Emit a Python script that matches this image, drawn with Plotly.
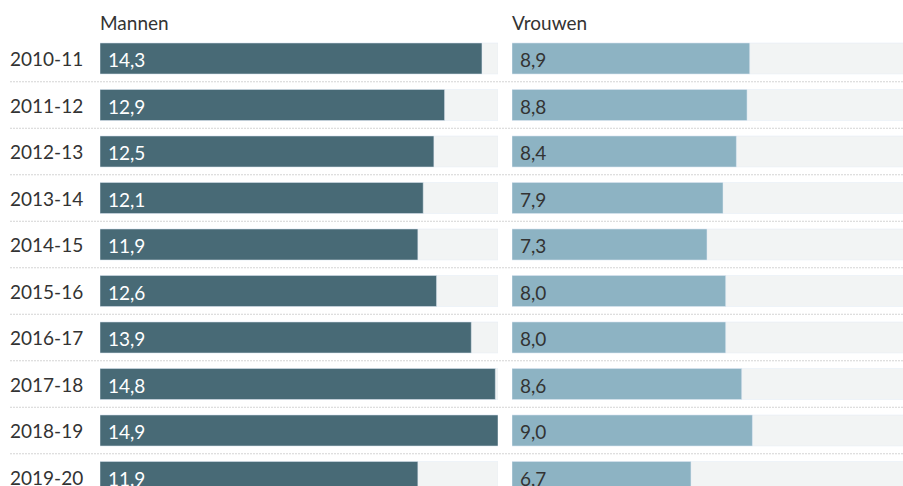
import plotly.graph_objects as go

seizoenen = ["2010-11", "2011-12", "2012-13", "2013-14", "2014-15",
             "2015-16", "2016-17", "2017-18", "2018-19", "2019-20"]
mannen = [14.3, 12.9, 12.5, 12.1, 11.9, 12.6, 13.9, 14.8, 14.9, 11.9]
vrouwen = [8.9, 8.8, 8.4, 7.9, 7.3, 8.0, 8.0, 8.6, 9.0, 6.7]

W, H = 903, 486
font = "Lato, 'Open Sans', sans-serif"
maximum = max(mannen + vrouwen)


def fmt(v):
    return f"{v:.1f}".replace(".", ",")


fig = go.Figure()
for xa, vals, kleur in [("x", mannen, "#486a76"), ("x2", vrouwen, "#8db3c3")]:
    fig.add_trace(go.Bar(y=seizoenen, x=[maximum] * len(seizoenen), orientation="h",
                         xaxis=xa, yaxis="y", marker_color="#f2f4f4", width=0.667,
                         hoverinfo="skip", showlegend=False))
    fig.add_trace(go.Bar(y=seizoenen, x=vals, orientation="h", xaxis=xa, yaxis="y",
                         marker_color=kleur, width=0.667, showlegend=False))

annotations = []
for xa, vals, kleur in [("x", mannen, "white"), ("x2", vrouwen, "#333333")]:
    for s, v in zip(seizoenen, vals):
        annotations.append(dict(x=0, y=s, xref=xa, yref="y", text=fmt(v), showarrow=False,
                                xanchor="left", xshift=6, yshift=-1,
                                font=dict(family=font, size=19, color=kleur)))
for s in seizoenen:
    annotations.append(dict(x=8 / W, y=s, xref="paper", yref="y", text=s, showarrow=False,
                            xanchor="left", font=dict(family=font, size=19, color="#333333")))
for xa, titel in [("x", "Mannen"), ("x2", "Vrouwen")]:
    annotations.append(dict(x=0, y=1 - 23 / H, xref=xa, yref="paper", text=titel,
                            showarrow=False, xanchor="left", yanchor="middle", xshift=-2,
                            font=dict(family=font, size=19, color="#333333")))

shapes = [dict(type="line", xref="paper", yref="y", x0=10 / W, x1=1, y0=i + 0.5, y1=i + 0.5,
               line=dict(color="#d4d4d4", width=1, dash="2px,1px"))
          for i in range(len(seizoenen) - 1)]

pitch = 46.5
top = -58.5 / pitch
fig.update_layout(
    width=W, height=H, margin=dict(l=0, r=0, t=0, b=0),
    paper_bgcolor="white", plot_bgcolor="white", barmode="overlay",
    xaxis=dict(domain=[100 / W, 498 / W], range=[0, maximum], visible=False, anchor="y"),
    xaxis2=dict(domain=[512 / W, 1], range=[0, (W - 512) * maximum / 398], visible=False,
                anchor="y"),
    yaxis=dict(type="category", range=[top + H / pitch, top], visible=False),
    annotations=annotations, shapes=shapes,
)

fig.write_html("out.html", config={"displayModeBar": False},
               post_script="document.body.style.margin='0';document.body.style.overflow='hidden';")
